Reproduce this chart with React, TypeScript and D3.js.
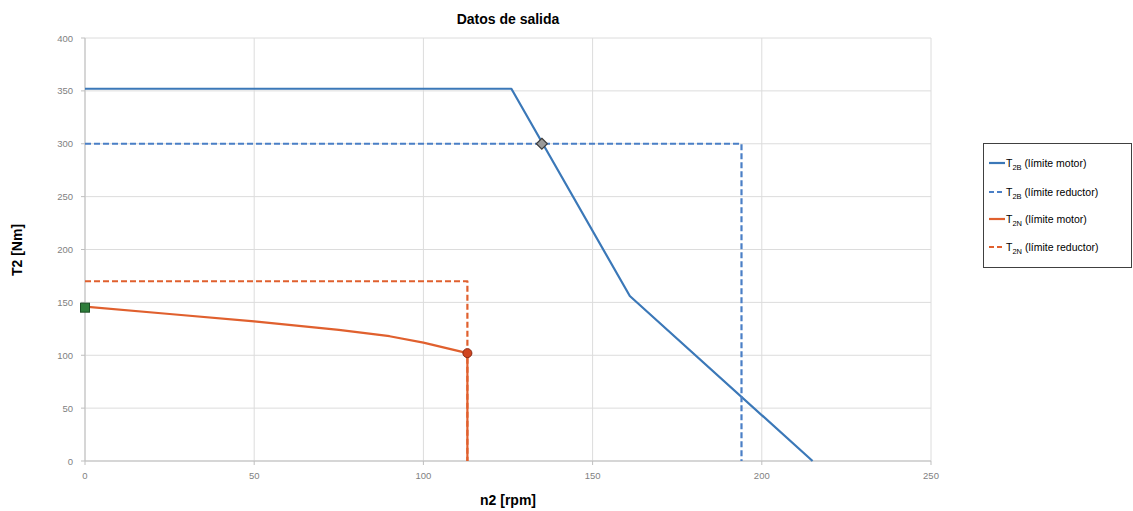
import React from "react";
import * as d3 from "d3";

const xTicks = [0, 50, 100, 150, 200, 250];
const yTicks = [0, 50, 100, 150, 200, 250, 300, 350, 400];

const t2bMotorX = [0, 126, 161, 215];
const t2bMotorY = [352, 352, 156, 0];
const t2bRedX = [0, 194, 194];
const t2bRedY = [300, 300, 0];
const t2nMotorX = [0, 25, 50, 75, 90, 100, 113, 113];
const t2nMotorY = [146, 139, 132, 124, 118, 112, 102, 0];
const t2nRedX = [0, 113, 113];
const t2nRedY = [170, 170, 0];

const legendLabels = ["(límite motor)", "(límite reductor)", "(límite motor)", "(límite reductor)"];
const legendSubs = ["2B", "2B", "2N", "2N"];

const BLUE = "#3b78b8";
const BLUE_D = "#4a7fc6";
const ORANGE = "#e0602e";

export default function App() {
  const W = 1133, H = 511;
  const m = { left: 85, right: 931, top: 38, bottom: 461 };
  const x = d3.scaleLinear().domain([0, 250]).range([m.left, m.right]);
  const y = d3.scaleLinear().domain([0, 400]).range([m.bottom, m.top]);
  const line = (xs: number[], ys: number[]) =>
    d3.line<number>().x((_, i) => x(xs[i])).y((_, i) => y(ys[i]))(xs.map((_, i) => i)) || "";

  const series = [
    { xs: t2bMotorX, ys: t2bMotorY, color: BLUE, dash: undefined },
    { xs: t2bRedX, ys: t2bRedY, color: BLUE_D, dash: "6,3" },
    { xs: t2nRedX, ys: t2nRedY, color: ORANGE, dash: "6,3" },
    { xs: t2nMotorX, ys: t2nMotorY, color: ORANGE, dash: undefined },
  ];
  const legendColors = [BLUE, BLUE_D, ORANGE, ORANGE];
  const legendDash = [undefined, "5,3", undefined, "5,3"];
  const legendY = [163, 192, 219, 247];

  return (
    <svg width={W} height={H} style={{ position: "absolute", left: 0, top: 0, background: "#fff" }}
      fontFamily="'Liberation Sans', Arial, sans-serif">
      {yTicks.map((t) => (
        <line key={"gy" + t} x1={m.left} x2={m.right} y1={y(t)} y2={y(t)} stroke="#dcdcdc" strokeWidth={1} />
      ))}
      {xTicks.map((t) => (
        <line key={"gx" + t} x1={x(t)} x2={x(t)} y1={m.top} y2={m.bottom} stroke="#dcdcdc" strokeWidth={1} />
      ))}
      <line x1={m.left} x2={m.left} y1={m.top} y2={m.bottom} stroke="#bfbfbf" />
      <line x1={m.left} x2={m.right} y1={m.bottom} y2={m.bottom} stroke="#bfbfbf" />
      {yTicks.map((t) => (
        <g key={"ty" + t}>
          <line x1={m.left - 4} x2={m.left} y1={y(t)} y2={y(t)} stroke="#bfbfbf" />
          <text x={m.left - 12} y={y(t) + 3.5} textAnchor="end" fontSize={9.5} fill="#7f7f7f">{t}</text>
        </g>
      ))}
      {xTicks.map((t) => (
        <g key={"tx" + t}>
          <line x1={x(t)} x2={x(t)} y1={m.bottom} y2={m.bottom + 4} stroke="#bfbfbf" />
          <text x={x(t)} y={m.bottom + 18} textAnchor="middle" fontSize={9.5} fill="#7f7f7f">{t}</text>
        </g>
      ))}
      {series.map((s, i) => (
        <path key={"s" + i} d={line(s.xs, s.ys)} fill="none" stroke={s.color} strokeWidth={2.2}
          strokeDasharray={s.dash} strokeLinejoin="round" />
      ))}
      <rect x={x(0) - 4.5} y={y(145) - 4.5} width={9} height={9} fill="#2e7d3a" stroke="#1b4d24" strokeWidth={1} />
      <circle cx={x(113)} cy={y(102)} r={4.5} fill="#d0451f" stroke="#8a2a12" strokeWidth={1} />
      <path d={`M${x(135)},${y(300) - 5.5} L${x(135) + 5.5},${y(300)} L${x(135)},${y(300) + 5.5} L${x(135) - 5.5},${y(300)} Z`}
        fill="#9a9a9a" stroke="#3d3d3d" strokeWidth={1.2} />
      <text x={508} y={24} textAnchor="middle" fontSize={14} fontWeight="bold" fill="#000">Datos de salida</text>
      <text x={508} y={505} textAnchor="middle" fontSize={14} fontWeight="bold" fill="#000">n2 [rpm]</text>
      <text transform={`translate(22,250) rotate(-90)`} textAnchor="middle" fontSize={14} fontWeight="bold" fill="#000">T2 [Nm]</text>
      <rect x={983.5} y={143.5} width={148} height={124} fill="#fff" stroke="#404040" strokeWidth={1} />
      {legendLabels.map((l, i) => (
        <g key={"lg" + i}>
          <line x1={989} x2={1005} y1={legendY[i]} y2={legendY[i]} stroke={legendColors[i]} strokeWidth={2.2}
            strokeDasharray={legendDash[i]} />
          <text x={1006} y={legendY[i] + 4} fontSize={10.5} fill="#000">
            T<tspan fontSize={7.5} dy={3}>{legendSubs[i]}</tspan><tspan dy={-3} dx={3}>{l}</tspan>
          </text>
        </g>
      ))}
    </svg>
  );
}
